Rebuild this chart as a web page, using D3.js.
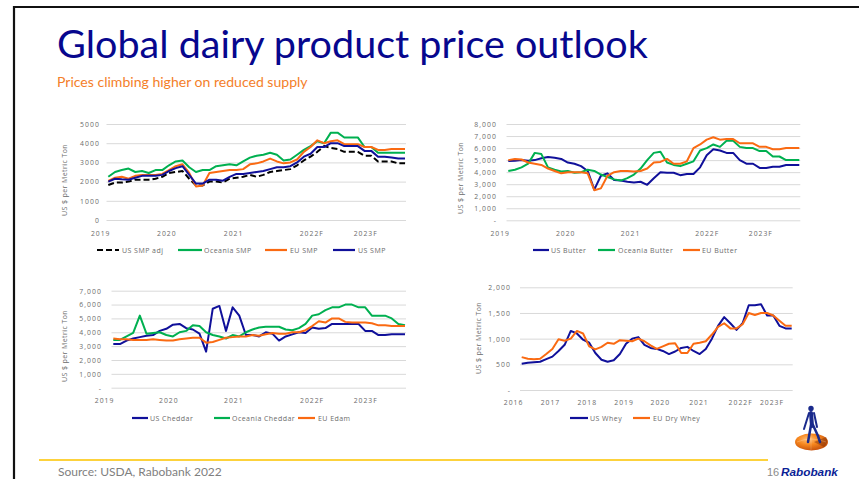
<!DOCTYPE html>
<html><head><meta charset="utf-8">
<script src="https://cdn.jsdelivr.net/npm/d3@7"></script>
<style>body{margin:0;background:#fff;} svg{display:block;}</style>
</head><body>
<svg id="c" width="859" height="479"></svg>
<script>
// ---------- DATA ----------
// SMP panel (2019 - 2023F), sampled evenly across the plot
const smpTickLabels = ["2019","2020","2021","2022F","2023F"];
const smpTickPos = [-1.2, 8.6, 18.5, 30.1, 38.1];
const smpYTicks = [0,1000,2000,3000,4000,5000];
const usSmpAdj = [1820,1950,1950,2000,2100,2100,2100,2150,2250,2450,2500,2550,2150,1800,1800,2000,2000,1950,2150,2200,2250,2350,2250,2350,2500,2550,2600,2650,2850,3100,3300,3550,3850,3750,3700,3550,3550,3550,3350,3350,3050,3050,3050,2950,2950];
const oceaniaSmp = [2250,2500,2600,2680,2500,2550,2450,2600,2600,2850,3050,3100,2750,2500,2600,2600,2800,2850,2900,2850,3050,3250,3350,3400,3500,3400,3100,3150,3400,3650,3850,4100,4000,4550,4550,4300,4300,4300,3800,3800,3500,3500,3500,3500,3500];
const euSmp = [2030,2200,2250,2150,2300,2350,2350,2350,2400,2600,2800,2900,2450,1750,1800,2450,2500,2550,2600,2600,2650,2900,2950,3050,3200,3050,2950,3000,3150,3550,3800,4150,4000,4100,4150,3950,3950,3950,3800,3800,3650,3650,3700,3700,3700];
const usSmp = [2000,2150,2120,2100,2200,2300,2300,2300,2350,2550,2700,2800,2350,1900,1900,2100,2100,2050,2250,2400,2400,2450,2500,2550,2650,2750,2750,2800,3000,3300,3450,3800,3800,4000,4000,3850,3850,3850,3600,3600,3300,3300,3250,3200,3200];

// Butter panel
const butterTickLabels = ["2019","2020","2021","2022F","2023F"];
const butterTickPos = [-1.3, 8.6, 18.4, 30.0, 38.1];
const butterYTicks = [0,1000,2000,3000,4000,5000,6000,7000,8000];
const usButter = [4930,4950,5000,4950,5000,5150,5250,5200,5100,4800,4700,4500,4100,2550,3700,3900,3350,3300,3200,3150,3200,2950,3500,4000,3950,3950,3750,3850,3850,4400,5400,5900,5800,5600,5600,5000,4700,4700,4350,4350,4450,4450,4600,4600,4600];
const oceaniaButter = [4100,4200,4400,4700,5600,5500,4400,4200,4050,4100,3950,4000,4200,4100,3800,3600,3400,3300,3500,3800,4300,5000,5600,5700,4800,4600,4500,4700,4900,5800,6000,6300,6100,6600,6600,6100,6000,6000,5750,5750,5300,5300,5000,5000,5000];
const euButter = [5000,5100,5050,4800,4700,4600,4300,4100,3900,4000,4000,4000,3900,2500,2650,3700,4000,4100,4100,4050,4100,4300,4800,4850,5100,4700,4700,4900,6000,6300,6700,6900,6700,6750,6750,6400,6400,6400,6100,6100,5900,5900,6000,6000,6000];

// Cheese panel
const cheeseTickLabels = ["2019","2020","2021","2022F","2023F"];
const cheeseTickPos = [-1.4, 8.3, 18.1, 29.9, 38.0];
const cheeseYTicks = [0,1000,2000,3000,4000,5000,6000,7000];
const usCheddar = [3150,3150,3400,3550,3650,3750,3800,4100,4250,4550,4600,4300,4200,3900,2600,5700,5900,4100,5800,5200,3800,3800,3700,4000,3900,3400,3700,3850,4000,3950,4350,4250,4300,4600,4600,4600,4600,4600,4100,4100,3800,3800,3850,3850,3850];
const oceaniaCheddar = [3450,3450,3700,3950,5200,3900,3950,4000,3800,3700,4000,4100,4500,4450,4000,3800,3700,3550,3800,3700,4000,4200,4350,4400,4400,4400,4200,4150,4300,4600,5200,5300,5600,5800,5800,6000,6000,5800,5800,5200,5200,5200,5000,4600,4500];
const euEdam = [3550,3500,3500,3450,3450,3450,3500,3450,3400,3400,3500,3550,3600,3600,3250,3300,3450,3600,3650,3700,3700,3800,3750,3850,3950,3900,3900,4000,4000,4150,4450,4800,4700,5000,5000,4750,4700,4700,4700,4650,4500,4500,4450,4450,4450];

// Whey panel
const wheyTickLabels = ["2016","2017","2018","2019","2020","2021","2022F","2023F"];
const wheyTickPos = [-1.4, 4.6, 10.6, 16.6, 22.5, 28.8, 35.6, 40.7];
const wheyYTicks = [0,500,1000,1500,2000];
const usWhey = [510,530,540,550,600,650,760,880,1150,1100,980,920,720,590,550,580,700,900,1000,1030,880,820,800,760,700,750,820,840,760,700,800,1000,1250,1420,1300,1170,1300,1650,1650,1670,1450,1450,1250,1200,1200];
const euDryWhey = [640,610,600,610,700,800,990,960,1000,1150,1100,850,790,840,920,900,970,960,950,1000,950,870,800,850,900,910,720,720,900,920,950,1080,1230,1300,1200,1200,1280,1500,1460,1500,1500,1450,1350,1250,1250];

// ---------- STYLE ----------
const C_BLUE = "#10109a", C_GREEN = "#00b050", C_ORANGE = "#fa6a12", C_BLACK = "#000";
const chartFont = "'Open Sans', sans-serif";
const textGray = "#6b6b6b";

const svg = d3.select("#c");

// slide frame
svg.append("line").attr("x1",14).attr("x2",859).attr("y1",7).attr("y2",7).attr("stroke","#111").attr("stroke-width",2.2);
svg.append("line").attr("x1",14).attr("x2",14).attr("y1",6).attr("y2",479).attr("stroke","#111").attr("stroke-width",2.2);

function fitText(sel, target) {
  const w = sel.node().getComputedTextLength();
  const fs = parseFloat(sel.attr("font-size"));
  sel.attr("font-size", fs * target / w);
}

const title = svg.append("text").attr("x",57).attr("y",58)
  .attr("font-family","Lato, 'Open Sans', sans-serif").attr("font-size",38).attr("fill","#07078e")
  .text("Global dairy product price outlook");
fitText(title, 591);

const sub = svg.append("text").attr("x",57).attr("y",87)
  .attr("font-family","Lato, 'Open Sans', sans-serif").attr("font-size",13).attr("fill","#f4802a")
  .text("Prices climbing higher on reduced supply");
fitText(sub, 251);

function panel(cfg) {
  const g = svg.append("g");
  const n = cfg.series[0].values.length;
  const x = d3.scaleLinear().domain([0, n - 1]).range([cfg.x0, cfg.x1]);
  const y = d3.scaleLinear().domain([0, cfg.ymax]).range([cfg.yb, cfg.yt]);

  // y axis with gridlines
  const ya = g.append("g").attr("transform", `translate(${cfg.gx0},0)`)
    .call(d3.axisLeft(y).tickValues(cfg.yTicks).tickSize(-(cfg.x1 + 1 - cfg.gx0))
      .tickPadding(cfg.gx0 - cfg.lx).tickFormat(cfg.fmt));
  ya.select(".domain").remove();
  ya.selectAll(".tick line").attr("stroke","#d9d9d9").attr("stroke-width",1);
  ya.selectAll(".tick text").attr("font-family",chartFont).attr("font-size",6.8)
    .attr("fill",textGray).attr("letter-spacing",1.1).attr("dy","0.35em");

  // x axis labels
  const xa = g.append("g").attr("transform", `translate(0,${cfg.yb})`)
    .call(d3.axisBottom(x).tickValues(cfg.tickPos).tickSize(0).tickPadding(cfg.xpad)
      .tickFormat((d, i) => cfg.tickLabels[i]));
  xa.select(".domain").remove();
  xa.selectAll(".tick text").attr("font-family",chartFont).attr("font-size",6.8)
    .attr("fill",textGray).attr("letter-spacing",1);

  // y title
  g.append("text").attr("transform", `translate(${cfg.tx},${cfg.ty}) rotate(-90)`)
    .attr("text-anchor","middle").attr("font-family",chartFont).attr("font-size",7)
    .attr("fill",textGray).attr("letter-spacing",0.4).text("US $ per Metric Ton");

  // lines
  const line = d3.line().x((d, i) => x(i)).y(d => y(d));
  cfg.series.forEach(s => {
    g.append("path").datum(s.values).attr("d", line).attr("fill","none")
      .attr("stroke", s.color).attr("stroke-width", 2).attr("stroke-linejoin","round")
      .attr("stroke-dasharray", s.dash || null);
  });

  // legend
  cfg.series.forEach((s, i) => {
    const L = cfg.legend[i];
    g.append("line").attr("x1", L[0]).attr("x2", L[1]).attr("y1", cfg.ly).attr("y2", cfg.ly)
      .attr("stroke", s.color).attr("stroke-width", 2.2).attr("stroke-dasharray", s.dash || null);
    g.append("text").attr("x", L[2]).attr("y", cfg.ly + 2.5).attr("font-family",chartFont)
      .attr("font-size",7).attr("fill",textGray).attr("letter-spacing",0.45).text(s.name);
  });
}

const fmtComma = d => d === 0 ? "-" : d3.format(",")(d);

panel({
  x0:108.3, x1:405, gx0:106.5, lx:100, yb:220, yt:124, ymax:5000, yTicks:smpYTicks,
  fmt: d => String(d), tickLabels:smpTickLabels, tickPos:smpTickPos, xpad:11,
  tx:67, ty:180, ly:250,
  series:[
    {name:"US SMP adj", values:usSmpAdj, color:C_BLACK, dash:"6,3"},
    {name:"Oceania SMP", values:oceaniaSmp, color:C_GREEN},
    {name:"EU SMP", values:euSmp, color:C_ORANGE},
    {name:"US SMP", values:usSmp, color:C_BLUE}
  ],
  legend:[[97,119,122],[178,202,204],[265,287,290],[333,355,358]]
});

panel({
  x0:508.3, x1:799.3, gx0:506.5, lx:497, yb:220.3, yt:124, ymax:8000, yTicks:butterYTicks,
  fmt: fmtComma, tickLabels:butterTickLabels, tickPos:butterTickPos, xpad:11,
  tx:463, ty:178, ly:250,
  series:[
    {name:"US Butter", values:usButter, color:C_BLUE},
    {name:"Oceania Butter", values:oceaniaButter, color:C_GREEN},
    {name:"EU Butter", values:euButter, color:C_ORANGE}
  ],
  legend:[[533,549,551],[598,615,618],[683,700,702]]
});

panel({
  x0:113.3, x1:405, gx0:111.5, lx:102, yb:387.7, yt:290.7, ymax:7000, yTicks:cheeseYTicks,
  fmt: fmtComma, tickLabels:cheeseTickLabels, tickPos:cheeseTickPos, xpad:10,
  tx:67, ty:346, ly:418,
  series:[
    {name:"US Cheddar", values:usCheddar, color:C_BLUE},
    {name:"Oceania Cheddar", values:oceaniaCheddar, color:C_GREEN},
    {name:"EU Edam", values:euEdam, color:C_ORANGE}
  ],
  legend:[[132,148,150],[214,230,232],[298,315,318]]
});

panel({
  x0:521.7, x1:791.7, gx0:520, lx:511, yb:390, yt:287.3, ymax:2000, yTicks:wheyYTicks,
  fmt: fmtComma, tickLabels:wheyTickLabels, tickPos:wheyTickPos, xpad:10.5,
  tx:481, ty:338, ly:418,
  series:[
    {name:"US Whey", values:usWhey, color:C_BLUE},
    {name:"EU Dry Whey", values:euDryWhey, color:C_ORANGE}
  ],
  legend:[[570,588,590],[633,650,653]]
});

// footer
svg.append("line").attr("x1",39).attr("x2",768).attr("y1",460).attr("y2",460)
  .attr("stroke","#fdd23c").attr("stroke-width",2);
const src = svg.append("text").attr("x",58).attr("y",476).attr("font-family","Lato, 'Open Sans', sans-serif")
  .attr("font-size",11).attr("fill","#7f7f7f").text("Source: USDA, Rabobank 2022");
fitText(src, 164);
svg.append("text").attr("x",767).attr("y",476).attr("font-family","'Liberation Sans', Arial, sans-serif")
  .attr("font-size",11).attr("fill","#8a8a8a").text("16");
const rb = svg.append("text").attr("x",781).attr("y",476).attr("font-family","'Liberation Sans', Arial, sans-serif")
  .attr("font-size",12).attr("font-weight","bold").attr("font-style","italic").attr("fill","#0b1f96").text("Rabobank");
fitText(rb, 57);

// logo
const defs = svg.append("defs");
const rg = defs.append("radialGradient").attr("id","globe").attr("cx","40%").attr("cy","35%").attr("r","70%");
rg.append("stop").attr("offset","0%").attr("stop-color","#ffc078");
rg.append("stop").attr("offset","45%").attr("stop-color","#f7871e");
rg.append("stop").attr("offset","100%").attr("stop-color","#c24d0a");
svg.append("ellipse").attr("cx",811.5).attr("cy",442).attr("rx",16.5).attr("ry",8.5).attr("fill","url(#globe)");
svg.append("path").attr("d","M814,442 L826,437 Q829,442 824,447 Z").attr("fill","#7a2c05").attr("opacity",0.45);
svg.append("path").attr("d","M797,442 Q811,436 826,442").attr("fill","none").attr("stroke","#fff").attr("stroke-opacity",0.35).attr("stroke-width",0.6);
svg.append("path").attr("d","M811,434 L811,450").attr("fill","none").attr("stroke","#fff").attr("stroke-opacity",0.3).attr("stroke-width",0.6);
const man = svg.append("g").attr("stroke","#1a2a8c").attr("stroke-linecap","round").attr("fill","none");
man.append("line").attr("x1",811).attr("y1",413).attr("x2",812).attr("y2",426).attr("stroke-width",4);
man.append("line").attr("x1",809).attr("y1",413).attr("x2",804).attr("y2",429).attr("stroke-width",2);
man.append("line").attr("x1",814).attr("y1",413).attr("x2",817).attr("y2",427).attr("stroke-width",2);
man.append("line").attr("x1",811).attr("y1",425).attr("x2",808).attr("y2",442).attr("stroke-width",2.5);
man.append("polyline").attr("points","813,425 818,436 820,442").attr("stroke-width",2.5);
svg.append("circle").attr("cx",811).attr("cy",408.5).attr("r",2.7).attr("fill","#1a2a8c");
</script>
</body></html>
